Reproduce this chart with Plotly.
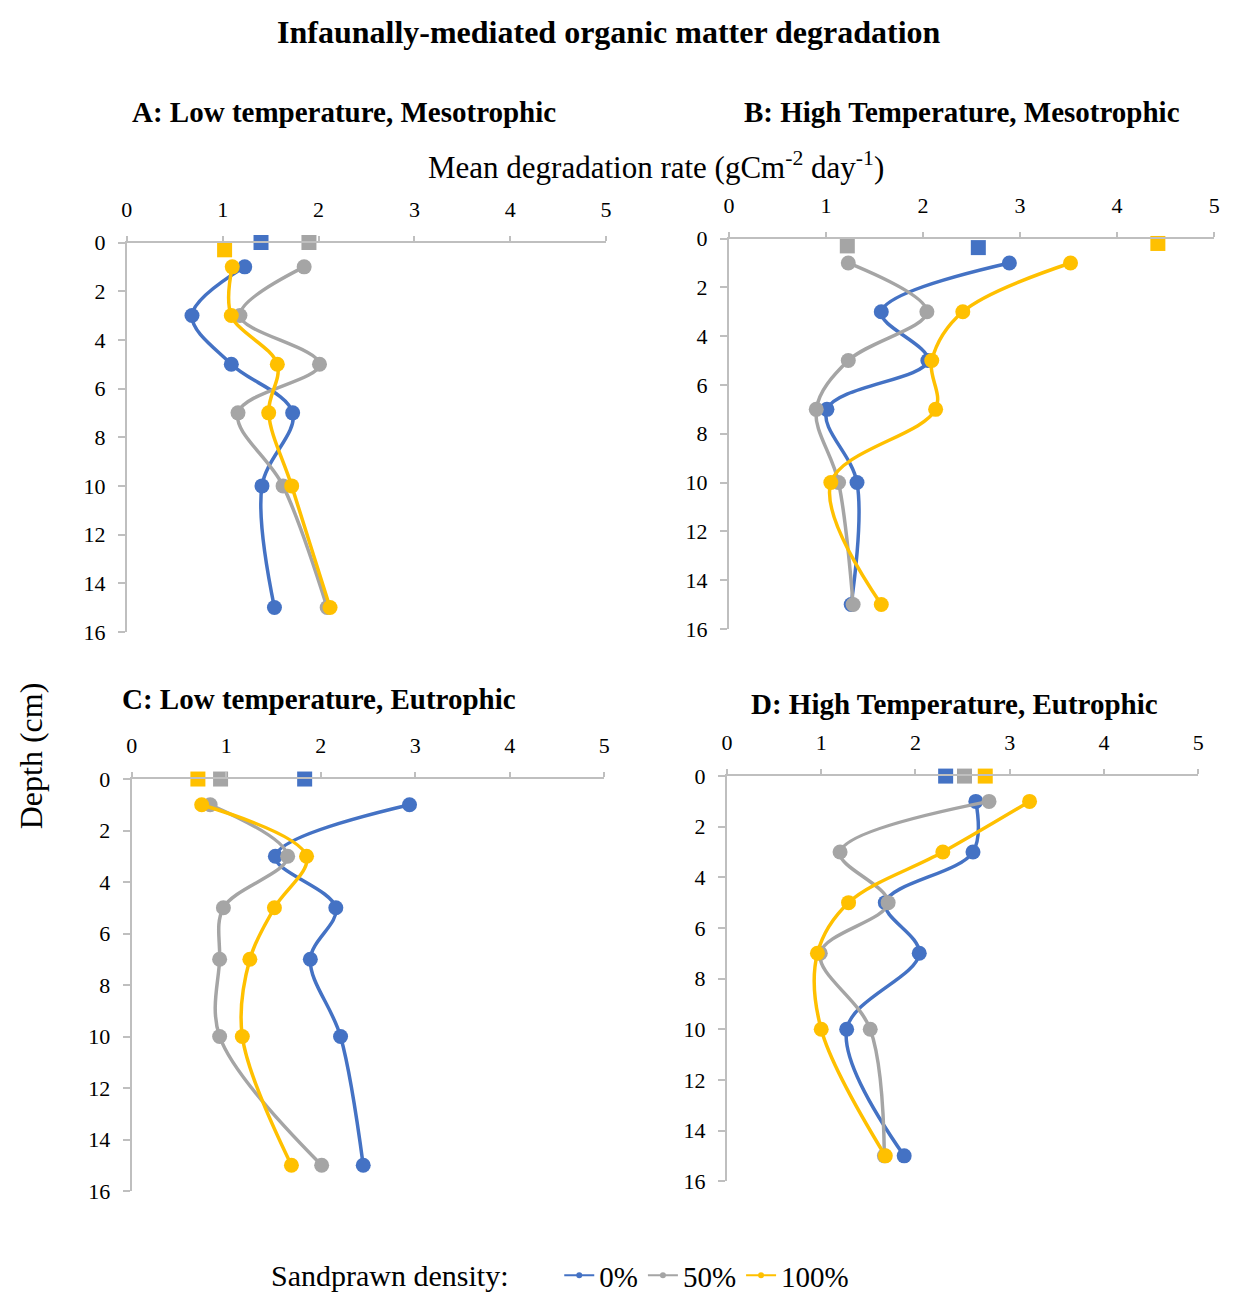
import plotly.graph_objects as go

depths = [1, 3, 5, 7, 10, 15]
series_names = ["0%", "50%", "100%"]
colors = ["#4472C4", "#A5A5A5", "#FFC000"]

panel_titles = ["A: Low temperature, Mesotrophic", "B: High Temperature, Mesotrophic",
                "C: Low temperature, Eutrophic", "D: High Temperature, Eutrophic"]

# Panel A
a_0 = [1.23, 0.68, 1.09, 1.73, 1.41, 1.54]
a_50 = [1.85, 1.18, 2.01, 1.16, 1.63, 2.09]
a_100 = [1.10, 1.09, 1.57, 1.48, 1.72, 2.12]
a_sq_x = [1.40, 1.90, 1.02]
a_sq_d = [0.0, 0.0, 0.3]

# Panel B
b_0 = [2.89, 1.57, 2.05, 1.01, 1.32, 1.26]
b_50 = [1.23, 2.04, 1.23, 0.90, 1.13, 1.28]
b_100 = [3.52, 2.41, 2.09, 2.13, 1.05, 1.57]
b_sq_x = [2.57, 1.22, 4.42]
b_sq_d = [0.37, 0.3, 0.2]

# Panel C
c_0 = [2.94, 1.52, 2.16, 1.89, 2.21, 2.45]
c_50 = [0.83, 1.65, 0.97, 0.93, 0.93, 2.01]
c_100 = [0.74, 1.85, 1.51, 1.25, 1.17, 1.69]
c_sq_x = [1.83, 0.94, 0.70]
c_sq_d = [0.0, 0.0, 0.0]

# Panel D
d_0 = [2.64, 2.61, 1.68, 2.04, 1.27, 1.88]
d_50 = [2.78, 1.20, 1.71, 0.99, 1.52, 1.67]
d_100 = [3.21, 2.29, 1.29, 0.96, 1.00, 1.68]
d_sq_x = [2.32, 2.52, 2.74]
d_sq_d = [0.0, 0.0, 0.0]

panels = [
    ([a_0, a_50, a_100], a_sq_x, a_sq_d),
    ([b_0, b_50, b_100], b_sq_x, b_sq_d),
    ([c_0, c_50, c_100], c_sq_x, c_sq_d),
    ([d_0, d_50, d_100], d_sq_x, d_sq_d),
]

W, H = 1236, 1306
# plot areas in pixels: (x0, x5, y0, y16)
areas = [(122, 606, 235, 632), (730, 1220, 231, 629),
         (127, 604, 782, 1202), (728, 1204, 779, 1192)]

FONT = "Liberation Serif"
AXC = "#BFBFBF"

fig = go.Figure()
for i, (vals, sqx, sqd) in enumerate(panels):
    xa = "x" if i == 0 else f"x{i+1}"
    ya = "y" if i == 0 else f"y{i+1}"
    for j in range(3):
        fig.add_trace(go.Scatter(
            x=vals[j], y=depths, mode="lines+markers", xaxis=xa, yaxis=ya,
            line=dict(color=colors[j], width=3.5, shape="spline", smoothing=1.0),
            marker=dict(color=colors[j], size=15, symbol="circle"),
            showlegend=False, hoverinfo="skip", cliponaxis=False))
        fig.add_trace(go.Scatter(
            x=[sqx[j]], y=[sqd[j]], mode="markers", xaxis=xa, yaxis=ya,
            marker=dict(color=colors[j], size=15, symbol="square"),
            showlegend=False, cliponaxis=False, hoverinfo="skip"))

for j in range(3):
    fig.add_trace(go.Scatter(
        x=[None], y=[None], mode="lines+markers", name=series_names[j],
        line=dict(color=colors[j], width=2),
        marker=dict(color=colors[j], size=6), showlegend=True))

layout = dict(
    width=W, height=H, paper_bgcolor="white", plot_bgcolor="white",
    margin=dict(l=0, r=0, t=0, b=0),
    font=dict(family=FONT, color="black"),
    showlegend=True,
    legend=dict(orientation="h", x=0.452, y=1 - 1288 / H, xanchor="left", yanchor="middle",
                font=dict(family=FONT, size=29, color="black"), itemwidth=30, tracegroupgap=0,
                bgcolor="rgba(0,0,0,0)"),
)
for i, (x0, x5, y0, y16) in enumerate(areas):
    sfx = "" if i == 0 else str(i + 1)
    yname = "y" if i == 0 else f"y{i+1}"
    xname = "x" if i == 0 else f"x{i+1}"
    layout["xaxis" + sfx] = dict(
        domain=[x0 / W, x5 / W], range=[0, 5], side="top", anchor=yname,
        tickvals=[0, 1, 2, 3, 4, 5], showgrid=False, zeroline=False,
        showline=True, linecolor=AXC, linewidth=2, ticks="outside", ticklen=5,
        tickcolor=AXC, tickwidth=2, ticklabelstandoff=10,
        tickfont=dict(family=FONT, size=22, color="black"))
    layout["yaxis" + sfx] = dict(
        domain=[1 - y16 / H, 1 - y0 / H], range=[16, 0], anchor=xname,
        tickvals=list(range(0, 17, 2)), showgrid=False, zeroline=False,
        showline=True, linecolor=AXC, linewidth=2, ticks="outside", ticklen=7,
        tickcolor=AXC, tickwidth=2, ticklabelstandoff=8,
        tickfont=dict(family=FONT, size=22, color="black"))
fig.update_layout(**layout)

def ann(text, px, py, size, bold=False, angle=0):
    if bold:
        text = f"<b>{text}</b>"
    fig.add_annotation(text=text, x=px / W, y=1 - py / H, xref="paper", yref="paper",
                       xanchor="center", yanchor="middle", showarrow=False,
                       textangle=angle, font=dict(family=FONT, size=size, color="black"))

ann("Infaunally-mediated organic matter degradation", 609, 20, 32, bold=True)
ann(panel_titles[0], 341, 102, 29, bold=True)
ann(panel_titles[1], 965, 102, 29, bold=True)
ann(panel_titles[2], 316, 700, 29, bold=True)
ann(panel_titles[3], 958, 706, 29, bold=True)
ann("Mean degradation rate (gCm<sup>-2</sup> day<sup>-1</sup>)", 656, 156, 31)
ann("Depth (cm)", 26, 758, 32, angle=-90)
ann("Sandprawn density:", 387, 1288, 30)

fig.write_html("out.html")
